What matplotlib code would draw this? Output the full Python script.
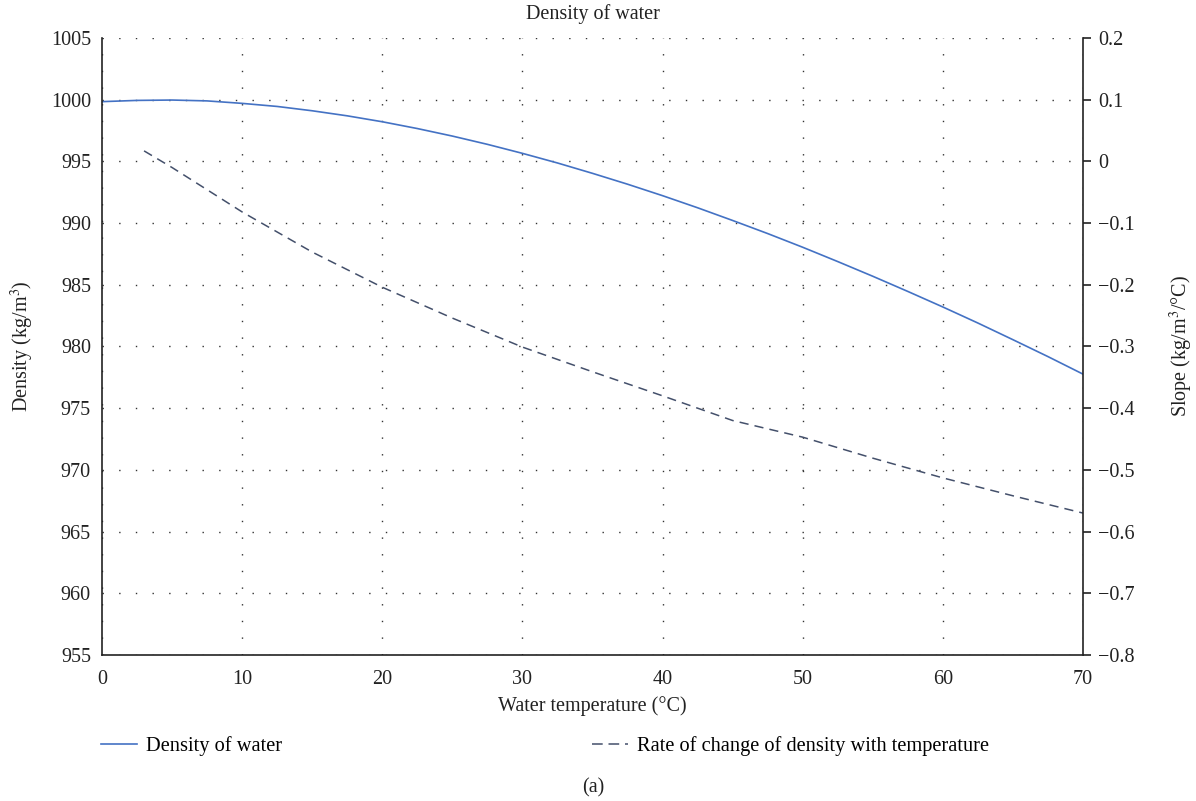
import matplotlib
matplotlib.use("Agg")
import matplotlib.pyplot as plt
from matplotlib.lines import Line2D

plt.rcParams['font.family'] = ['Liberation Serif', 'DejaVu Serif']
plt.rcParams['mathtext.fontset'] = 'stix'

temp_density = [0, 2.5, 5, 7.5, 10, 12.5, 15, 17.5, 20, 22.5, 25, 27.5, 30, 32.5, 35,
                37.5, 40, 42.5, 45, 47.5, 50, 52.5, 55, 57.5, 60, 62.5, 65, 67.5, 70]
density = [999.84, 999.94, 999.97, 999.90, 999.70, 999.45, 999.10, 998.69, 998.21,
           997.66, 997.05, 996.38, 995.65, 994.87, 994.03, 993.15, 992.22, 991.24,
           990.21, 989.15, 988.04, 986.88, 985.69, 984.46, 983.20, 981.90, 980.55,
           979.18, 977.76]

temp_slope = [3, 5, 10, 15, 20, 25, 30, 35, 40, 45, 50, 55, 60, 65, 70]
slope = [0.017, -0.010, -0.082, -0.147, -0.204, -0.254, -0.301, -0.341,
         -0.380, -0.420, -0.447, -0.481, -0.513, -0.542, -0.570]

xticks = [0, 10, 20, 30, 40, 50, 60, 70]
yticks_left = [955, 960, 965, 970, 975, 980, 985, 990, 995, 1000, 1005]
yticks_right = [-0.8, -0.7, -0.6, -0.5, -0.4, -0.3, -0.2, -0.1, 0, 0.1, 0.2]
yticklabels_right = ['\u22120.8', '\u22120.7', '\u22120.6', '\u22120.5', '\u22120.4', '\u22120.3',
                     '\u22120.2', '\u22120.1', '0', '0.1', '0.2']

blue = '#4472C4'
dark = '#44506b'
txt = '#222222'
fs = 14.5

fig = plt.figure(figsize=(11.96, 8.01), dpi=100)
ax = fig.add_axes([0.0853, 0.1823, 0.8202, 0.7703])
ax2 = ax.twinx()

ax.plot(temp_density, density, color=blue, lw=1.2)
ax2.plot(temp_slope, slope, color=dark, lw=1.1, linestyle=(0, (6, 4)))

ax.set_xlim(0, 70)
ax.set_ylim(955, 1005)
ax2.set_ylim(-0.8, 0.2)
ax.set_xticks(xticks)
ax.set_yticks(yticks_left)
ax2.set_yticks(yticks_right)
ax2.set_yticklabels(yticklabels_right)

ax.grid(True, color='#333333', linestyle=(0, (1, 11)), lw=1.0)
ax.set_axisbelow(True)

for a in (ax, ax2):
    a.spines['top'].set_visible(False)
ax2.spines['left'].set_visible(False)
ax2.spines['bottom'].set_visible(False)
ax.spines['right'].set_visible(False)
for s in ('left', 'bottom'):
    ax.spines[s].set_linewidth(1.2)
    ax.spines[s].set_color(txt)
ax2.spines['right'].set_linewidth(1.2)
ax2.spines['right'].set_color(txt)

ax.tick_params(axis='y', length=0, labelsize=fs, colors=txt, pad=8)
ax.tick_params(axis='x', length=0, labelsize=fs, colors=txt, pad=11)
ax2.tick_params(axis='y', length=6, width=1.2, direction='out', labelsize=fs,
                colors=txt, pad=5)

ax.set_xlabel('Water temperature (\u00b0C)', fontsize=fs, color=txt, labelpad=5)
ax.set_ylabel('Density (kg/m$^3$)', fontsize=fs, color=txt, labelpad=11)
ax2.set_ylabel('Slope (kg/m$^3$/\u00b0C)', fontsize=fs, color=txt, labelpad=24)
ax.set_title('Density of water', fontsize=fs, color=txt, pad=14)

h1 = Line2D([], [], color=blue, lw=1.2)
h2 = Line2D([], [], color=dark, lw=1.1, linestyle=(0, (7, 3.8)))
fig.legend(handles=[h1], labels=['Density of water'], loc='center left',
           bbox_to_anchor=(0.0845, 0.068), frameon=False, fontsize=14.7,
           handlelength=1.76, handletextpad=0.45, borderpad=0, borderaxespad=0)
fig.legend(handles=[h2], labels=['Rate of change of density with temperature'],
           loc='center left', bbox_to_anchor=(0.495, 0.068), frameon=False,
           fontsize=14.7, handlelength=1.76, handletextpad=0.45, borderpad=0,
           borderaxespad=0)
fig.text(0.496, 0.017, '(a)', ha='center', va='center', fontsize=fs, color=txt)

fig.savefig('out.png', dpi=100)
